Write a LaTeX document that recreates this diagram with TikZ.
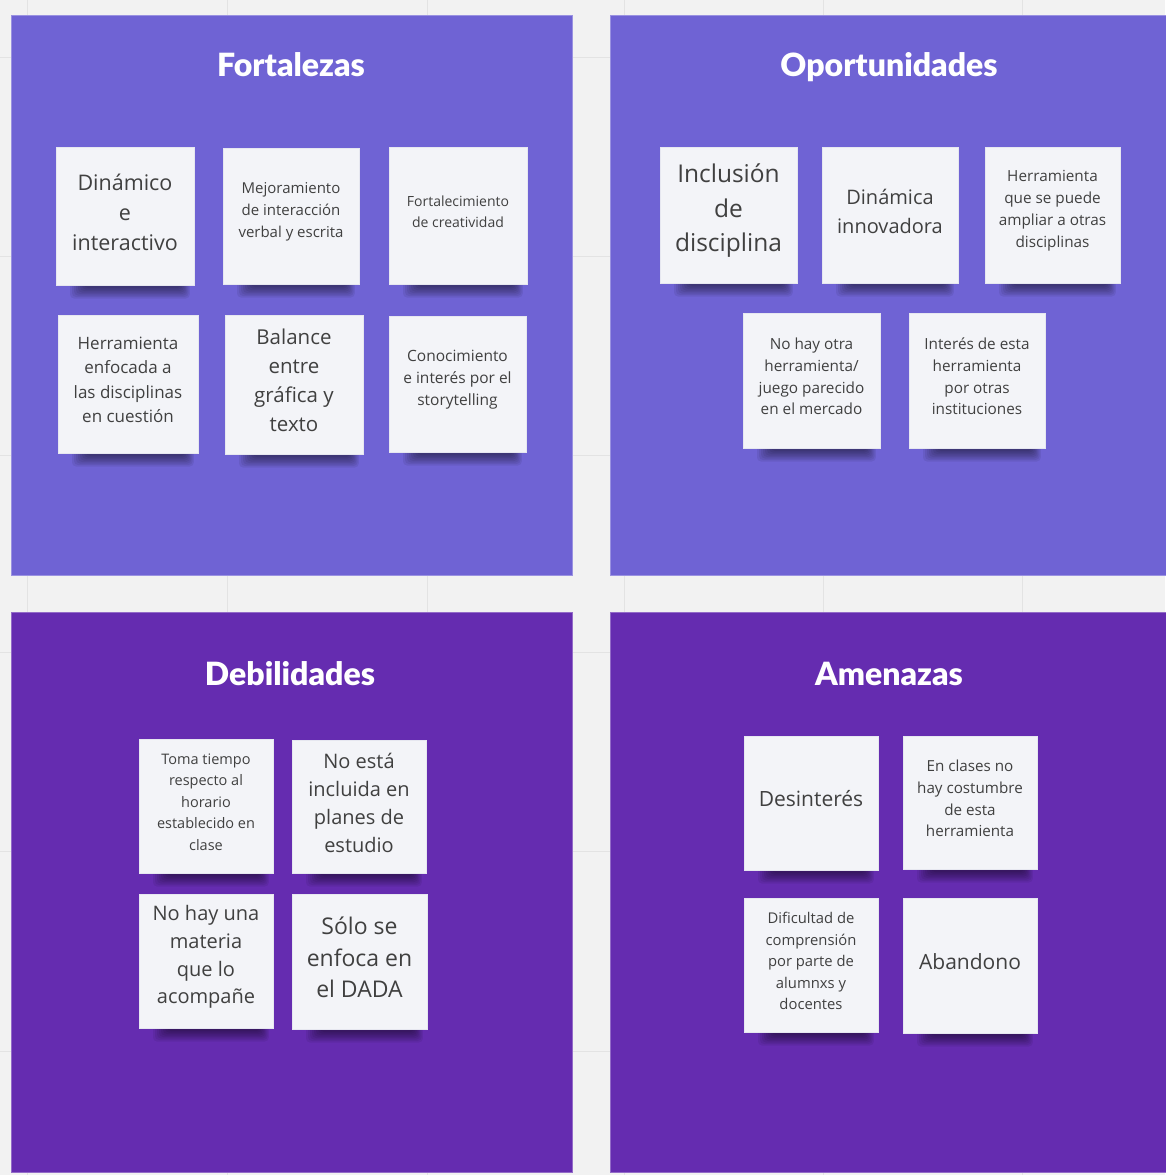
\documentclass[tikz,border=0pt]{standalone}
\usepackage{fontspec}
\setmainfont{Open Sans}
\newfontfamily\titlefont{Lato Black}
\usetikzlibrary{calc}
\definecolor{bgcol}{HTML}{F2F2F2}
\definecolor{gridcol}{HTML}{E3E3E3}
\definecolor{topcol}{HTML}{6F63D4}
\definecolor{botcol}{HTML}{652CB0}
\definecolor{notecol}{HTML}{F3F4F8}
\definecolor{noteedge}{HTML}{E6E7F0}
\definecolor{notetxt}{HTML}{404040}
\tikzset{
  panel/.style={draw=#1!70!white, line width=0.8pt, fill=#1},
  notebox/.style={rectangle, fill=notecol, draw=noteedge, line width=0.6pt, inner sep=0pt},
  notetext/.style={align=center, text=notetxt, inner sep=0pt},
  paneltitle/.style={anchor=base, text=white, font=\titlefont\fontsize{32}{36}\selectfont},
}
\newcommand\sticky[8]{%
  \foreach \k in {1,...,8}{\fill[black,opacity=0.065,rounded corners=4pt] ({#2+12+2*\k},{#5-4}) rectangle ({#4-3-1.2*\k},{#5+15-1.5*\k});}
  \node[notebox, minimum width={(#4-#2)*1pt}, minimum height={(#5-#3)*1pt}] (#1) at ({(#2+#4)/2},{(#3+#5)/2}) {};
  \node[notetext, font=\fontsize{#6}{#7}\selectfont] (#1-t) at ([yshift=4pt]#1.center) {#8};
}
\begin{document}
\begin{tikzpicture}[x=1pt, y=-1pt]
\useasboundingbox (0,0) rectangle (1165,1175);
\fill[bgcol] (0,0) rectangle (1165,1175);
% grid
\foreach \gx in {27,227,427,624,823,1022}{\draw[gridcol, line width=1pt] (\gx,0) -- (\gx,1175);}
\foreach \gy in {57,256,455,652,851,1051}{\draw[gridcol, line width=1pt] (0,\gy) -- (1165,\gy);}
% panels
\path[panel=topcol] (11,15) rectangle (572,575);
\path[panel=topcol] (610,15) rectangle (1167,575);
\path[panel=botcol] (11,612) rectangle (572,1172);
\path[panel=botcol] (610,612) rectangle (1167,1172);
% titles
\node[paneltitle] (tF) at (291,76) {Fortalezas};
\node[paneltitle] (tO) at (889,76) {Oportunidades};
\node[paneltitle] (tD) at (290,685) {Debilidades};
\node[paneltitle] (tA) at (889,685) {Amenazas};
% Fortalezas
\sticky{f1}{56}{147}{194}{285}{21.5}{30}{Dinámico\\e\\interactivo}
\sticky{f2}{223}{148}{359}{284}{15}{22}{Mejoramiento\\de interacción\\verbal y escrita}
\sticky{f3}{389}{147}{527}{284}{14}{21}{Fortalecimiento\\de creatividad}
\sticky{f4}{58}{315}{198}{453}{17}{24.5}{Herramienta\\enfocada a\\las disciplinas\\en cuestión}
\sticky{f5}{225}{315}{363}{454}{20.5}{29}{Balance\\entre\\gráfica y\\texto}
\sticky{f6}{389}{316}{526}{452}{15.5}{22}{Conocimiento\\e interés por el\\storytelling}
% Oportunidades
\sticky{o1}{660}{147}{797}{283}{24.5}{34.5}{Inclusión\\de\\disciplina}
\sticky{o2}{822}{147}{958}{283}{20}{29}{Dinámica\\innovadora}
\sticky{o3}{985}{147}{1120}{283}{15.3}{22}{Herramienta\\que se puede\\ampliar a otras\\disciplinas}
\sticky{o4}{743}{313}{880}{448}{15.3}{21.7}{No hay otra\\herramienta/\\juego parecido\\en el mercado}
\sticky{o5}{909}{313}{1045}{448}{15.3}{21.7}{Interés de esta\\herramienta\\por otras\\instituciones}
% Debilidades
\sticky{d1}{139}{739}{273}{873}{14.5}{21.5}{Toma tiempo\\respecto al\\horario\\establecido en\\clase}
\sticky{d2}{292}{740}{426}{873}{20}{28}{No está\\incluida en\\planes de\\estudio}
\sticky{d3}{139}{894}{273}{1028}{20}{27.7}{No hay una\\materia\\que lo\\acompañe}
\sticky{d4}{292}{894}{427}{1029}{23}{31.5}{Sólo se\\enfoca en\\el DADA}
% Amenazas
\sticky{a1}{744}{736}{878}{870}{21}{29}{Desinterés}
\sticky{a2}{903}{736}{1037}{869}{15.2}{21.7}{En clases no\\hay costumbre\\de esta\\herramienta}
\sticky{a3}{744}{898}{878}{1032}{14.8}{21.5}{Dificultad de\\comprensión\\por parte de\\alumnxs y\\docentes}
\sticky{a4}{903}{898}{1037}{1033}{21}{29}{Abandono}
\end{tikzpicture}
\end{document}
